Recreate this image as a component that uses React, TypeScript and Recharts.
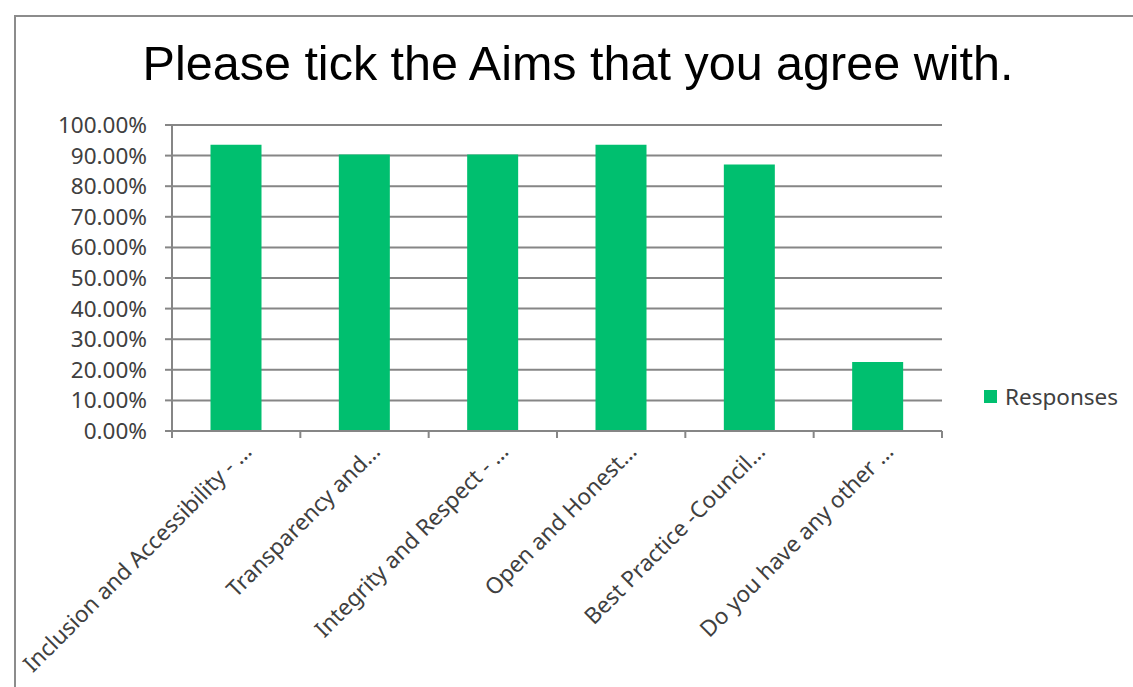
import React from "react";
import { BarChart, Bar, XAxis, YAxis, CartesianGrid, Legend } from "recharts";

const categories = [
  "Inclusion and Accessibility - …",
  "Transparency and…",
  "Integrity and Respect - …",
  "Open and Honest…",
  "Best Practice -Council…",
  "Do you have any other …",
];
const responses = [93.55, 90.32, 90.32, 93.55, 87.1, 22.58];
const yTicks = [0, 10, 20, 30, 40, 50, 60, 70, 80, 90, 100];
const seriesName = "Responses";
const title = "Please tick the Aims that you agree with.";

const data = categories.map((c, i) => ({ name: c, value: responses[i] }));

const GREEN = "#00BF6F";
const GRID = "#868686";
const TEXT = "#404040";
const FONT = "'Noto Sans', sans-serif";
const CHART_W = 1117;
const CHART_H = 670;
const MARGIN = { top: 108, right: 191, bottom: 16, left: 10 };
const BAND = (CHART_W - MARGIN.left - 146 - MARGIN.right) / categories.length;

const XTick = (props: any) => {
  const { x, y, payload, index } = props;
  const left = x - BAND / 2;
  const right = x + BAND / 2;
  const ax = x + 17;
  const ay = y + 22;
  return (
    <g>
      <line x1={left} y1={y} x2={left} y2={y + 7} stroke={GRID} strokeWidth={2} />
      {index === categories.length - 1 && (
        <line x1={right} y1={y} x2={right} y2={y + 7} stroke={GRID} strokeWidth={2} />
      )}
      <text
        x={ax}
        y={ay}
        textAnchor="end"
        transform={`rotate(-45, ${ax}, ${ay})`}
        fill={TEXT}
        fontSize={22.5}
        fontFamily={FONT}
      >
        {payload.value}
      </text>
    </g>
  );
};

const renderLegend = () => (
  <div style={{ display: "flex", alignItems: "center", fontFamily: FONT, whiteSpace: "nowrap" }}>
    <div style={{ width: 13, height: 13, background: GREEN, marginRight: 8, flex: "none" }} />
    <span style={{ fontSize: 22.5, color: TEXT, lineHeight: 1.2 }}>{seriesName}</span>
  </div>
);

export default function App() {
  return (
    <div>
      <div
        style={{
          position: "absolute",
          left: 0,
          top: 39,
          width: 1156,
          textAlign: "center",
          fontFamily: "'Liberation Sans', Arial, sans-serif",
          fontSize: 48.5,
          lineHeight: "48.5px",
          color: "#000",
          zIndex: 2,
        }}
      >
        {title}
      </div>
      <div
        style={{
          position: "absolute",
          left: 14,
          top: 15,
          width: CHART_W,
          height: CHART_H,
          borderTop: "2px solid #8c8c8c",
          borderLeft: "2px solid #8c8c8c",
          background: "#fff",
        }}
      >
        <BarChart width={CHART_W} height={CHART_H} data={data} margin={MARGIN} barCategoryGap="30%">
          <CartesianGrid vertical={false} stroke={GRID} strokeWidth={2} />
          <XAxis
            dataKey="name"
            interval={0}
            height={240}
            tickSize={0}
            tickMargin={0}
            tickLine={false}
            axisLine={{ stroke: GRID, strokeWidth: 2 }}
            tick={<XTick />}
          />
          <YAxis
            width={146}
            domain={[0, 100]}
            ticks={yTicks}
            interval={0}
            tickFormatter={(v: number) => v.toFixed(2) + "%"}
            tickSize={7}
            tickMargin={18}
            tickLine={{ stroke: GRID, strokeWidth: 2 }}
            axisLine={{ stroke: GRID, strokeWidth: 2 }}
            tick={{ fill: TEXT, fontSize: 22.5, fontFamily: FONT }}
          />
          <Legend
            layout="horizontal"
            align="left"
            verticalAlign="middle"
            content={renderLegend}
            wrapperStyle={{ position: "absolute", left: 968, top: 366, width: 0, height: 0, overflow: "visible" }}
          />
          <Bar dataKey="value" name={seriesName} fill={GREEN} isAnimationActive={false} />
        </BarChart>
      </div>
    </div>
  );
}
